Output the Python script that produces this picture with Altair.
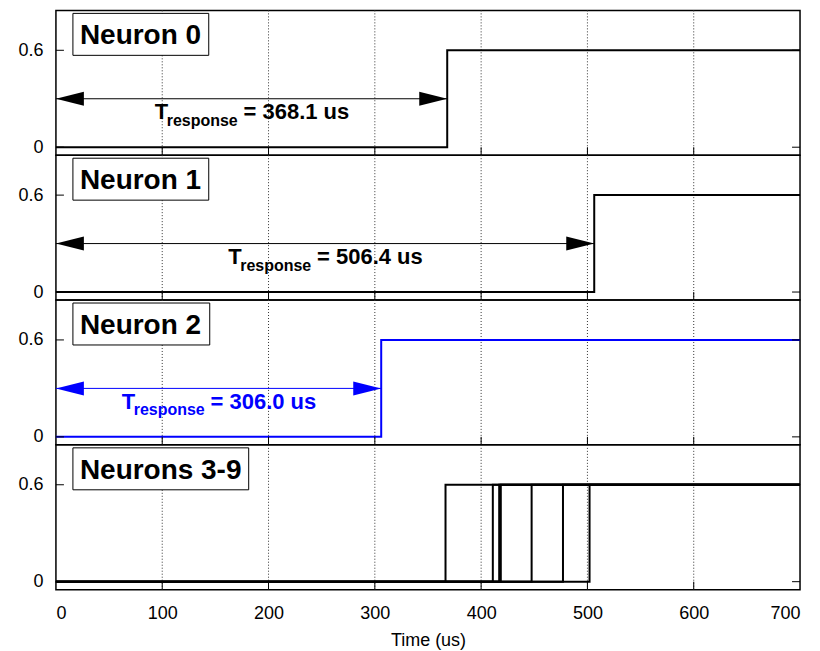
import altair as alt
import pandas as pd

# ---------------- data ----------------
panel_names = ["Neuron 0", "Neuron 1", "Neuron 2", "Neurons 3-9"]
response_times = [368.1, 506.4, 306.0]
panel_colors = ["black", "black", "#0000ff", "black"]
other_neuron_ids = [3, 4, 5, 6, 7, 8, 9]
other_neuron_times = [366.5, 411.0, 417.0, 418.5, 447.5, 477.0, 502.0]
low_level = 0.0
high_level = 0.6
t_start = 0
t_end = 700
arrow_level = 0.3
label_level = 0.173
x_tick_values = [0, 100, 200, 300, 400, 500, 600, 700]
x_inner_ticks = [100, 200, 300, 400, 500, 600]
y_tick_values = [0, 0.6]

# ---------------- layout ----------------
W = 745
H = 145
FONT = "Liberation Sans"
box_widths = [136, 136, 137, 176]

xscale = alt.Scale(domain=[t_start, t_end], nice=False, zero=False)
yscale = alt.Scale(domain=[-0.0495, 0.847], nice=False, zero=False)

head_left = "M0,0 L2,-0.5 L2,0.5 Z"
head_right = "M0,0 L-2,-0.5 L-2,0.5 Z"


def step_frame(ids, times):
    rows = []
    for i, t in zip(ids, times):
        rows.append({"t": t_start, "v": low_level, "s": str(i)})
        rows.append({"t": t, "v": high_level, "s": str(i)})
        rows.append({"t": t_end, "v": high_level, "s": str(i)})
    return pd.DataFrame(rows)


def make_panel(k):
    name = panel_names[k]
    color = panel_colors[k]
    last = k == len(panel_names) - 1
    if k < len(response_times):
        df = step_frame([k], [response_times[k]])
    else:
        df = step_frame(other_neuron_ids, other_neuron_times)

    if last:
        xaxis = alt.Axis(values=x_tick_values, grid=False, ticks=False, domain=False,
                         labelFontSize=18, labelFont=FONT, labelColor="black", labelPadding=15,
                         title="Time (us)", titleFontSize=18, titleFont=FONT,
                         titleFontWeight="normal", titleColor="black", titlePadding=9,
                         format="d")
    else:
        xaxis = None
    yaxis = alt.Axis(values=y_tick_values, grid=False, ticks=False, domain=False,
                     labelFontSize=18, labelFont=FONT, labelColor="black", labelPadding=13,
                     format="~g", title=None, minExtent=50, maxExtent=50)

    tick_df = pd.DataFrame({"t": x_inner_ticks})
    grid = alt.Chart(tick_df).mark_rule(color="#333", strokeWidth=1, strokeDash=[1, 2]).encode(
        x=alt.X("t:Q", scale=xscale, axis=xaxis), y=alt.value(0), y2=alt.value(H))

    line = alt.Chart(df).mark_line(interpolate="step-after", strokeWidth=2, color=color).encode(
        x=alt.X("t:Q", scale=xscale, axis=xaxis),
        y=alt.Y("v:Q", scale=yscale, axis=yaxis),
        detail="s:N",
    )

    # inward ticks
    xt = alt.Chart(tick_df).mark_rule(color="black", strokeWidth=1).encode(
        x=alt.X("t:Q", scale=xscale), y=alt.value(H), y2=alt.value(H - 8))
    yt_df = pd.DataFrame({"v": y_tick_values})
    ytl = alt.Chart(yt_df).mark_rule(color="black", strokeWidth=1).encode(
        y=alt.Y("v:Q", scale=yscale), x=alt.value(0), x2=alt.value(8))
    ytr = alt.Chart(yt_df).mark_rule(color="black", strokeWidth=1).encode(
        y=alt.Y("v:Q", scale=yscale), x=alt.value(W - 8), x2=alt.value(W))

    box_df = pd.DataFrame({"name": [name]})
    box = alt.Chart(box_df).mark_rect(fill="white", stroke="black", strokeWidth=1).encode(
        x=alt.value(17), x2=alt.value(17 + box_widths[k]), y=alt.value(3), y2=alt.value(45))
    name_text = alt.Chart(box_df).mark_text(align="left", baseline="alphabetic", fontSize=28,
                                            fontWeight="bold", font=FONT, color="black").encode(
        x=alt.value(24), y=alt.value(34), text="name:N")

    layers = [grid, line, xt, ytl, ytr]

    if k < len(response_times):
        T = response_times[k]
        arr_df = pd.DataFrame({"t0": [t_start], "t1": [T], "v": [arrow_level]})
        arrow = alt.Chart(arr_df).mark_rule(color=color, strokeWidth=1).encode(
            x=alt.X("t0:Q", scale=xscale), x2="t1:Q", y=alt.Y("v:Q", scale=yscale))
        hl = alt.Chart(arr_df).mark_point(shape=head_left, filled=True, size=784, opacity=1,
                                          strokeWidth=0, color=color).encode(
            x=alt.X("t0:Q", scale=xscale), y=alt.Y("v:Q", scale=yscale))
        hr = alt.Chart(arr_df).mark_point(shape=head_right, filled=True, size=784, opacity=1,
                                          strokeWidth=0, color=color).encode(
            x=alt.X("t1:Q", scale=xscale), y=alt.Y("v:Q", scale=yscale))
        lab_df = pd.DataFrame({"c": [T / 2], "v": [label_level], "main": ["T"],
                               "sub": ["response"], "rest": [f"= {T:.1f} us"]})
        t1 = alt.Chart(lab_df).mark_text(align="left", baseline="alphabetic", dx=-97, fontSize=22,
                                         fontWeight="bold", font=FONT, color=color).encode(
            x=alt.X("c:Q", scale=xscale), y=alt.Y("v:Q", scale=yscale), text="main:N")
        t2 = alt.Chart(lab_df).mark_text(align="left", baseline="alphabetic", dx=-85, dy=6.5,
                                         fontSize=16, fontWeight="bold", font=FONT, color=color).encode(
            x=alt.X("c:Q", scale=xscale), y=alt.Y("v:Q", scale=yscale), text="sub:N")
        t3 = alt.Chart(lab_df).mark_text(align="left", baseline="alphabetic", dx=-8, fontSize=22,
                                         fontWeight="bold", font=FONT, color=color).encode(
            x=alt.X("c:Q", scale=xscale), y=alt.Y("v:Q", scale=yscale), text="rest:N")
        layers += [arrow, hl, hr, t1, t2, t3]

    layers += [box, name_text]
    return alt.layer(*layers).properties(width=W, height=H)


panels = [make_panel(k) for k in range(len(panel_names))]

chart = (
    alt.vconcat(*panels, spacing=0, bounds="flush")
    .properties(padding={"left": 5, "top": 8, "right": 15, "bottom": 5})
    .configure(font=FONT)
    .configure_view(stroke="black", strokeWidth=1.5)
)

chart.save("out.html", embed_options={"renderer": "svg", "actions": False})
